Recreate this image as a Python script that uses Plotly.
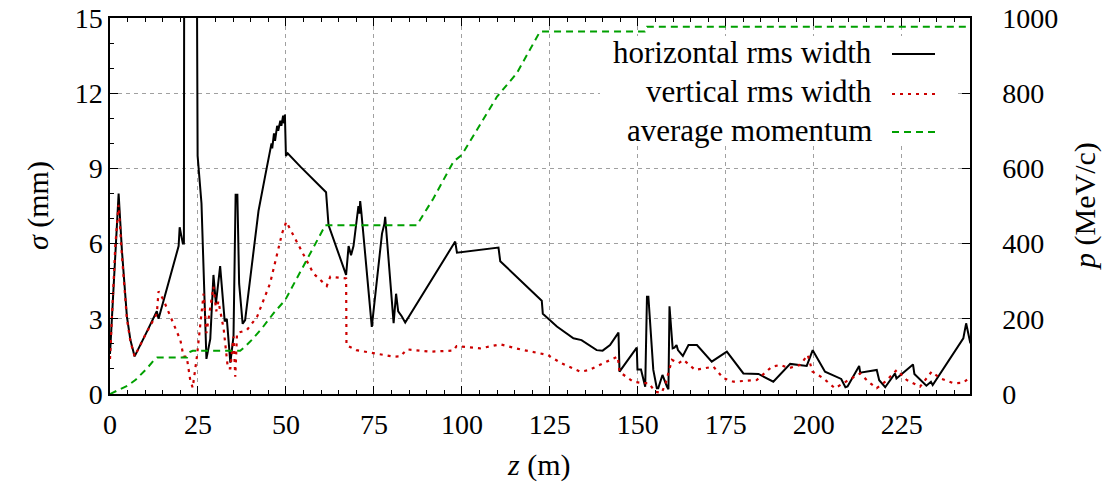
import plotly.graph_objects as go

# ---------------- data ----------------
# horizontal rms width (mm) vs z (m)
h_z = [0.0, 0.6, 1.5, 2.45, 3.4, 4.8, 5.8, 7.0, 10.0, 13.3, 13.8, 16.5, 19.5, 19.8, 20.7, 21.0,
       21.1, 24.6, 24.9, 26.0, 27.4, 28.5, 29.4, 30.1, 31.3, 32.6, 33.2, 34.2, 35.1, 35.7, 36.2,
       36.7, 37.7, 38.4, 40.3, 42.2, 44.1, 45.5, 45.9, 46.1, 46.6, 46.9, 47.5, 47.8, 48.4, 48.7,
       49.2, 49.5, 49.7, 50.0, 50.5, 54.1, 57.8, 60.9, 61.4, 62.1, 67.1, 67.8, 68.5, 69.2, 70.6,
       70.9, 71.1, 71.4, 74.4, 77.3, 78.0, 78.2, 78.5, 80.6, 81.3, 81.9, 82.9, 83.9, 98.1, 98.6,
       110.4, 110.9, 122.7, 123.0, 127.0, 131.7, 134.0, 136.5, 138.3, 140.0, 142.1, 144.5, 144.8,
       149.7, 149.9, 150.9, 152.1, 152.6, 153.0, 154.4, 155.4, 155.8, 157.0, 158.3, 158.7, 159.0,
       159.9, 160.4, 161.0, 161.4, 162.8, 164.4, 166.8, 171.0, 175.3, 180.0, 184.3, 188.5, 193.3,
       198.0, 199.7, 203.2, 207.8, 209.0, 209.6, 212.9, 213.2, 217.9, 218.6, 220.3, 223.1, 223.5,
       228.2, 228.6, 232.0, 233.3, 233.8, 242.5, 243.3, 244.5]
h_sigma = [1.6, 3.1, 5.7, 8.0, 5.7, 3.1, 2.15, 1.5, 2.35, 3.3, 3.0, 4.4, 5.9, 6.65, 6.0, 6.0,
           20.0, 20.0, 9.5, 7.6, 1.4, 2.2, 4.75, 3.6, 5.1, 2.9, 3.0, 1.25, 2.3, 7.95, 7.95,
           4.4, 2.8, 2.95, 5.1, 7.3, 8.7, 9.7, 10.0, 9.8, 10.4, 10.1, 10.7, 10.5, 10.9, 10.7,
           11.1, 10.8, 11.15, 9.5, 9.6, 9.07, 8.54, 8.1, 8.05, 6.74, 4.75, 5.9, 5.54, 5.9, 7.5,
           7.2, 7.7, 7.3, 2.68, 6.4, 6.8, 7.07, 6.5, 2.83, 4.0, 3.3, 3.1, 2.85, 6.08, 5.64,
           5.84, 5.3, 3.72, 3.2, 2.69, 2.22, 2.15, 1.9, 1.75, 1.73, 1.95, 2.45, 0.89,
           1.85, 0.98, 0.98, 0.29, 3.88, 3.88, 0.96, 0.23, 0.23, 0.76, 0.29, 0.19, 3.5,
           1.82, 1.85, 1.95, 1.75, 1.52, 1.95, 1.95, 1.29, 1.69, 0.82, 0.8, 0.49, 1.2,
           1.12, 1.75, 0.89, 0.6, 0.27, 0.3, 1.12, 0.85, 0.96, 0.55, 0.27, 0.82, 0.62,
           1.18, 0.8, 0.33, 0.49, 0.36, 2.22, 2.82, 2.02]

# vertical rms width (mm) vs z (m)
v_z = [0.0, 0.6, 1.5, 2.45, 3.4, 4.8, 5.8, 7.0, 10.0, 13.3, 13.8, 15.2, 17.6, 20.0, 20.9, 21.8,
       22.8, 23.5, 24.7, 26.6, 27.4, 28.4, 29.4, 30.2, 30.8, 32.3, 33.5, 34.2, 35.1, 35.6, 36.1,
       38.9, 41.8, 45.5, 48.9, 50.1, 54.1, 57.8, 61.6, 62.6, 67.1, 67.2, 70.0, 74.9, 80.6, 82.5,
       84.4, 91.0, 97.6, 98.5, 105.2, 110.9, 116.6, 122.2, 124.5, 128.0, 131.7, 133.6, 136.0,
       138.3, 141.0, 144.3, 144.8, 148.7, 151.6, 153.2, 154.9, 156.8, 157.9, 159.7, 161.6, 163.0,
       166.3, 171.5, 174.3, 177.2, 183.8, 188.1, 190.5, 193.0, 196.1, 198.3, 199.6, 202.7, 206.0,
       210.8, 213.2, 215.5, 217.9, 220.3, 223.6, 226.4, 230.2, 233.5, 235.9, 239.7, 242.5, 244.5]
v_sigma = [1.4, 3.3, 5.9, 7.55, 5.5, 3.0, 2.1, 1.5, 2.35, 3.2, 4.1, 3.75, 2.95, 2.15, 1.49, 1.49,
           0.56, 0.25, 1.49, 4.0, 2.43, 3.28, 4.28, 3.3, 3.7, 2.6, 1.02, 1.02, 2.29, 0.69, 2.43,
           2.55, 3.08, 4.42, 6.41, 6.87, 5.81, 4.81, 4.31, 4.68, 4.61, 1.95, 1.75, 1.62, 1.49, 1.5,
           1.78, 1.69, 1.73, 1.91, 1.82, 1.98, 1.78, 1.62, 1.55, 1.25, 1.02, 0.89, 0.95,
           1.09, 1.28, 1.49, 0.88, 0.49, 0.43, 0.43, 0.09, 0.05, 0.43, 1.36, 1.23, 1.36,
           0.96, 1.09, 0.63, 0.49, 0.56, 1.09, 1.16, 1.03, 1.16, 1.56, 0.9, 0.63, 0.23,
           0.63, 0.82, 0.49, 0.23, 0.49, 0.96, 0.56, 0.29, 0.89, 0.63, 0.43, 0.45, 0.68]

# average momentum (MeV/c) vs z (m)
m_z = [0.0, 2.4, 5.0, 7.2, 10.5, 12.5, 13.4, 21.9, 22.8, 23.5, 37.0, 38.4, 40.3, 43.2, 46.5,
       49.8, 52.6, 55.5, 61.2, 87.2, 91.9, 97.6, 100.0, 110.0, 115.6, 122.2, 152.0, 152.6, 244.5]
m_p = [0, 10, 22, 37, 68, 90, 97, 97, 112, 115, 115, 126, 144, 175, 215,
       250, 299, 348, 449, 449, 520, 618, 636, 791, 853, 964, 964, 977, 977]

x_ticks = [0, 25, 50, 75, 100, 125, 150, 175, 200, 225]
y_ticks = [0, 3, 6, 9, 12, 15]
y2_ticks = [0, 200, 400, 600, 800, 1000]
legend_labels = ["horizontal rms width", "vertical rms width", "average momentum"]

# ---------------- style ----------------
FONT = '"Liberation Serif", "DejaVu Serif", serif'
FS = 28
FS_TEXT = 30
BLACK = "#000000"
RED = "#cc0000"
GREEN = "#00a000"
GRID = "#a0a0a0"

W, H = 1110, 486
L, R, T, B = 110, 970, 18, 394
XR = [0, 244.4]


def px2x(px):
    return (px - L) / (R - L)


def py2y(py):
    return (B - py) / (B - T)


fig = go.Figure()
fig.add_trace(go.Scatter(x=h_z, y=h_sigma, mode="lines", name=legend_labels[0],
                         line=dict(color=BLACK, width=2), yaxis="y"))
fig.add_trace(go.Scatter(x=v_z, y=v_sigma, mode="lines", name=legend_labels[1],
                         line=dict(color=RED, width=2.2, dash="3px,5px"), yaxis="y"))
fig.add_trace(go.Scatter(x=m_z, y=m_p, mode="lines", name=legend_labels[2],
                         line=dict(color=GREEN, width=2, dash="7px,5px"), yaxis="y2"))
# empty trace to carry the mirrored top axis (minor ticks on top border)
fig.add_trace(go.Scatter(x=[], y=[], mode="lines", xaxis="x2", yaxis="y", hoverinfo="skip"))

tickfont = dict(family=FONT, size=FS, color=BLACK)

fig.update_layout(
    width=W, height=H, autosize=False,
    margin=dict(l=L, r=W - R, t=T, b=H - B, pad=0, autoexpand=False),
    paper_bgcolor="white", plot_bgcolor="white",
    showlegend=False,
    xaxis=dict(range=XR, tickvals=x_ticks, ticks="inside", ticklen=8, tickwidth=1,
               tickcolor=BLACK, showline=True, linecolor=BLACK, linewidth=1.5, mirror=True,
               showgrid=True, gridcolor=GRID, gridwidth=1, griddash="4px,4px", zeroline=False,
               tickfont=tickfont, ticklabelstandoff=5, automargin=False,
               minor=dict(dtick=5, ticks="inside", ticklen=4, tickcolor=BLACK, showgrid=False)),
    xaxis2=dict(range=XR, overlaying="x", side="top", tickvals=x_ticks, ticks="inside",
                ticklen=8, tickwidth=1, tickcolor=BLACK, showticklabels=False, showgrid=False,
                showline=False, zeroline=False, automargin=False,
                minor=dict(dtick=5, ticks="inside", ticklen=4, tickcolor=BLACK, showgrid=False)),
    yaxis=dict(range=[0, 15], tickvals=y_ticks, ticks="inside", ticklen=8, tickwidth=1,
               tickcolor=BLACK, showline=True, linecolor=BLACK, linewidth=1.5, mirror=True,
               showgrid=True, gridcolor=GRID, gridwidth=1, griddash="4px,4px", zeroline=False,
               tickfont=tickfont, ticklabelstandoff=0, automargin=False,
               minor=dict(dtick=1, ticks="inside", ticklen=4, tickcolor=BLACK, showgrid=False)),
    yaxis2=dict(range=[0, 1000], tickvals=y2_ticks, overlaying="y", side="right",
                ticks="inside", ticklen=8, tickwidth=1, tickcolor=BLACK, showline=True,
                linecolor=BLACK, linewidth=1.5, showgrid=False, zeroline=False,
                tickfont=tickfont, ticklabelstandoff=25, automargin=False),
)

# axis titles
title_font = dict(family=FONT, size=FS_TEXT, color=BLACK)
fig.add_annotation(text="<i>z</i> (m)", xref="paper", yref="paper", x=px2x(539), y=py2y(465),
                   showarrow=False, font=title_font, xanchor="center", yanchor="middle")
fig.add_annotation(text="<i>σ</i> (mm)", xref="paper", yref="paper", x=px2x(38), y=py2y(206),
                   showarrow=False, font=title_font, textangle=-90, xanchor="center", yanchor="middle")
fig.add_annotation(text="<i>p</i> (MeV/c)", xref="paper", yref="paper", x=px2x(1085), y=py2y(206),
                   showarrow=False, font=title_font, textangle=-90, xanchor="center", yanchor="middle")

# legend (gnuplot style: right-aligned text, sample on the right)
fig.add_shape(type="rect", xref="paper", yref="paper", x0=px2x(600), x1=px2x(955),
              y0=py2y(145), y1=py2y(36), fillcolor="white", line=dict(width=0), layer="above")
rows = [52, 92, 130]
styles = [dict(color=BLACK, width=2), dict(color=RED, width=2.2, dash="3px,5px"),
          dict(color=GREEN, width=2, dash="7px,5px")]
for lab, ry, st in zip(legend_labels, rows, styles):
    fig.add_annotation(text=lab, xref="paper", yref="paper", x=px2x(874), y=py2y(ry),
                       showarrow=False, font=dict(family=FONT, size=31, color=BLACK),
                       xanchor="right", yanchor="middle")
    fig.add_shape(type="line", xref="paper", yref="paper", x0=px2x(892), x1=px2x(935),
                  y0=py2y(ry + 2), y1=py2y(ry + 2), line=st, layer="above")

fig.write_html("out.html")
